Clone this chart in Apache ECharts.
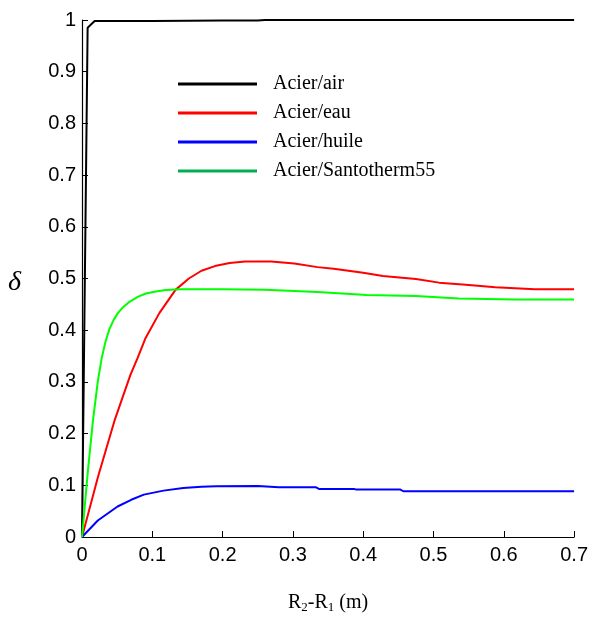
<!DOCTYPE html>
<html>
<head>
<meta charset="utf-8">
<script src="https://cdn.jsdelivr.net/npm/echarts@6/dist/echarts.min.js"></script>
<style>
html,body{margin:0;padding:0;background:#fff;}
#chart{width:591px;height:619px;}
</style>
</head>
<body>
<div id="chart"></div>
<script>
// Data
const seriesNames = ['Acier/air', 'Acier/eau', 'Acier/huile', 'Acier/Santotherm55'];
const airX = [0, 0.008, 0.018, 0.1, 0.2, 0.25, 0.26, 0.7];
const airY = [0, 0.985, 0.998, 0.998, 0.999, 0.999, 1.0, 1.0];
const eauX = [0, 0.0225, 0.046, 0.069, 0.079, 0.0905, 0.11, 0.133, 0.152, 0.17, 0.189, 0.21, 0.232, 0.269, 0.302, 0.335, 0.358, 0.4, 0.428, 0.475, 0.508, 0.546, 0.588, 0.644, 0.7];
const eauY = [0, 0.115, 0.224, 0.314, 0.346, 0.385, 0.433, 0.478, 0.5, 0.515, 0.524, 0.53, 0.533, 0.533, 0.529, 0.522, 0.519, 0.511, 0.505, 0.499, 0.492, 0.488, 0.483, 0.479, 0.479];
const huileX = [0, 0.0225, 0.0506, 0.07, 0.088, 0.116, 0.144, 0.17, 0.191, 0.25, 0.28, 0.333, 0.337, 0.387, 0.39, 0.453, 0.457, 0.7];
const huileY = [0, 0.032, 0.059, 0.072, 0.082, 0.0897, 0.0949, 0.097, 0.098, 0.0987, 0.096, 0.096, 0.093, 0.093, 0.0917, 0.0917, 0.0885, 0.0885];
const santoX = [0, 0.0084, 0.0155, 0.0225, 0.028, 0.0335, 0.039, 0.045, 0.051, 0.058, 0.0675, 0.08, 0.091, 0.105, 0.119, 0.14, 0.2, 0.26, 0.335, 0.405, 0.475, 0.536, 0.616, 0.7];
const santoY = [0, 0.128, 0.224, 0.301, 0.346, 0.378, 0.402, 0.42, 0.433, 0.444, 0.455, 0.465, 0.471, 0.475, 0.4776, 0.479, 0.479, 0.478, 0.474, 0.468, 0.466, 0.4615, 0.4596, 0.4596];
const lineColors = ['#000000', '#ff0000', '#0000ff', '#00ff00'];
const legendColors = ['#000000', '#ff0000', '#0000ff', '#00b050'];
const xTicks = [0, 0.1, 0.2, 0.3, 0.4, 0.5, 0.6, 0.7];
const yTicks = [0, 0.1, 0.2, 0.3, 0.4, 0.5, 0.6, 0.7, 0.8, 0.9, 1];

function pairs(xs, ys) { return xs.map((x, i) => [x, ys[i]]); }
const allX = [airX, eauX, huileX, santoX];
const allY = [airY, eauY, huileY, santoY];

const chart = echarts.init(document.getElementById('chart'));
const axisFont = {fontFamily: 'Liberation Sans, Arial, sans-serif', fontSize: 20, color: '#000'};
chart.setOption({
  animation: false,
  backgroundColor: '#fff',
  grid: {left: 82, right: 11, top: 20, bottom: 79, containLabel: false},
  xAxis: {
    type: 'value', min: 0, max: 0.7, interval: 0.1,
    axisLine: {show: true, onZero: false, lineStyle: {color: '#000', width: 1.2}},
    axisTick: {show: true, inside: true, length: 6, lineStyle: {color: '#000'}},
    splitLine: {show: false},
    axisLabel: Object.assign({margin: 8, formatter: v => xTicks.includes(+v.toFixed(2)) ? String(+v.toFixed(2)) : ''}, axisFont),
    name: '{r|R}{s|2}{r|-R}{s|1}{r| (m)}',
    nameLocation: 'middle', nameGap: 55,
    nameTextStyle: {rich: {
      r: {fontFamily: 'Liberation Serif, Times New Roman, serif', fontSize: 20, color: '#000'},
      s: {fontFamily: 'Liberation Serif, Times New Roman, serif', fontSize: 13, color: '#000', verticalAlign: 'bottom', padding: [9, 0, 0, 0]}
    }}
  },
  yAxis: {
    type: 'value', min: 0, max: 1, interval: 0.1,
    axisLine: {show: true, onZero: false, lineStyle: {color: '#000', width: 1.2}},
    axisTick: {show: true, inside: true, length: 6, lineStyle: {color: '#000'}},
    splitLine: {show: false},
    axisLabel: Object.assign({margin: 6, formatter: v => yTicks.includes(+v.toFixed(2)) ? String(+v.toFixed(2)) : ''}, axisFont)
  },
  legend: {
    orient: 'vertical', left: 173, top: 69,
    itemWidth: 79, itemHeight: 3, itemGap: 9, icon: 'rect',
    textStyle: {fontFamily: 'Liberation Serif, Times New Roman, serif', fontSize: 20, color: '#000', lineHeight: 20, padding: [0, 0, 0, 11]},
    data: seriesNames.map((n, i) => ({name: n, itemStyle: {color: legendColors[i]}}))
  },
  graphic: [{
    type: 'text', left: 8, top: 269,
    style: {text: 'δ', font: 'italic 28px "Liberation Serif", "Times New Roman", serif', fill: '#000'}
  }],
  series: seriesNames.map((n, i) => ({
    name: n, type: 'line', symbol: 'none', smooth: false,
    data: pairs(allX[i], allY[i]),
    lineStyle: {color: lineColors[i], width: 2},
    itemStyle: {color: lineColors[i]}
  }))
});
</script>
</body>
</html>
